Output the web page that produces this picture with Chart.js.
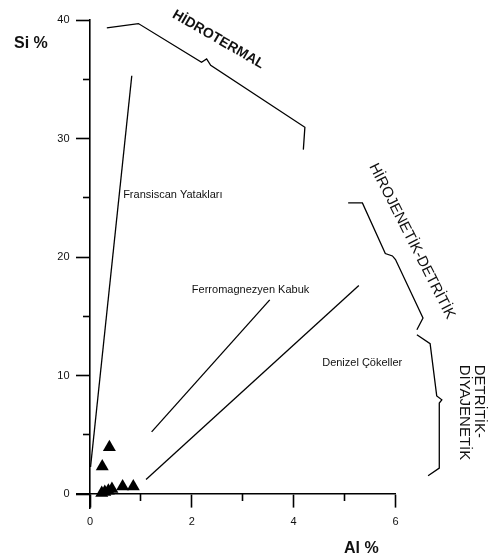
<!DOCTYPE html>
<html><head><meta charset="utf-8">
<script src="https://cdn.jsdelivr.net/npm/chart.js@4.4.1/dist/chart.umd.min.js"></script>
<style>html,body{margin:0;padding:0;background:#fff}#wrap{width:488px;height:560px;position:relative}</style>
</head><body><div id="wrap"><canvas id="c" width="488" height="560"></canvas></div>
<script>
// ---- data ----
const sampleAl = [0.38, 0.24, 0.23, 0.29, 0.36, 0.43, 0.64, 0.85];
const sampleSi = [3.97, 2.34, 0.10, 0.20, 0.30, 0.45, 0.65, 0.65];

const fransiscanAl = [0.01, 0.82];
const fransiscanSi = [2.3, 35.3];
const ferroAl = [1.21, 3.53];
const ferroSi = [5.26, 16.4];
const denizelAl = [1.10, 5.28];
const denizelSi = [1.24, 17.6];

const hidrotermalAl = [0.33, 0.95, 2.19, 2.29, 2.37, 4.22, 4.19];
const hidrotermalSi = [39.34, 39.7, 36.44, 36.72, 36.18, 30.95, 29.07];
const hirojenetikAl = [5.07, 5.35, 5.80, 5.94, 6.00, 6.54, 6.42];
const hirojenetikSi = [24.57, 24.57, 20.3, 20.1, 19.8, 14.87, 13.88];
const detritikAl = [6.42, 6.68, 6.81, 6.91, 6.86, 6.86, 6.64];
const detritikSi = [13.46, 12.70, 8.29, 7.97, 7.69, 2.21, 1.56];

const xMajorTicks = [0, 2, 4, 6];
const xMinorTicks = [1, 3, 5];
const yMajorTicks = [0, 10, 20, 30, 40];
const yMinorTicks = [5, 15, 25, 35];

const axisTitles = ['Si %', 'Al %'];
const fieldNames = ['Fransiscan Yatakları', 'Ferromagnezyen Kabuk', 'Denizel Çökeller'];
const regionNames = ['HİDROTERMAL', 'HİROJENETİK-DETRİTİK', 'DETRİTİK-', 'DİYAJENETİK'];

// ---- chart ----
const FAM = '"Liberation Sans", Arial, Helvetica, sans-serif';
const pts = (xs, ys) => xs.map((x, i) => ({x: x, y: ys[i]}));
const lineDs = (xs, ys) => ({
  data: pts(xs, ys), showLine: true, borderColor: '#000', borderWidth: 1.3,
  pointRadius: 0, pointHoverRadius: 0, fill: false, clip: false, tension: 0
});
const zeroPad = s => { s.paddingLeft = 0; s.paddingRight = 0; s.paddingTop = 0; s.paddingBottom = 0; };
const setTicks = arr => s => { s.ticks = arr.map(v => ({value: v})); };

const textPlugin = {
  id: 'texts',
  afterDraw(chart) {
    const ctx = chart.ctx;
    const xs = chart.scales.x, ys = chart.scales.y;
    const px = v => xs.getPixelForValue(v), py = v => ys.getPixelForValue(v);
    ctx.save();
    ctx.fillStyle = '#111';
    // axis titles
    ctx.font = 'bold 16px ' + FAM;
    ctx.textAlign = 'left'; ctx.textBaseline = 'alphabetic';
    ctx.fillText(axisTitles[0], px(0) - 76, py(40) + 28);
    ctx.fillText(axisTitles[1], px(0) + 254, py(0) + 59);
    // field labels
    ctx.font = '11px ' + FAM;
    ctx.textBaseline = 'middle';
    ctx.fillText(fieldNames[0], px(0.65), py(25.21));
    ctx.fillText(fieldNames[1], px(2.0), py(17.26));
    ctx.fillText(fieldNames[2], px(4.56), py(11.07));
    // region labels
    ctx.textAlign = 'center';
    ctx.font = 'bold 14px ' + FAM;
    ctx.save(); ctx.translate(px(2.52), py(38.35)); ctx.rotate(30 * Math.PI / 180);
    ctx.fillText(regionNames[0], 0, 0); ctx.restore();
    ctx.font = '15px ' + FAM;
    ctx.save(); ctx.translate(px(6.32), py(21.35)); ctx.rotate(63 * Math.PI / 180);
    ctx.fillText(regionNames[1], 0, 0); ctx.restore();
    ctx.textAlign = 'left'; ctx.textBaseline = 'alphabetic';
    ctx.save(); ctx.translate(px(7.56), py(10.93)); ctx.rotate(Math.PI / 2);
    ctx.fillText(regionNames[2], 0, 0);
    ctx.fillText(regionNames[3], 0, 15);
    ctx.restore();
    ctx.restore();
  }
};

const tickFont = {family: FAM, size: 11};
new Chart(document.getElementById('c'), {
  type: 'scatter',
  data: {
    datasets: [
      lineDs(fransiscanAl, fransiscanSi),
      lineDs(ferroAl, ferroSi),
      lineDs(denizelAl, denizelSi),
      lineDs(hidrotermalAl, hidrotermalSi),
      lineDs(hirojenetikAl, hirojenetikSi),
      lineDs(detritikAl, detritikSi),
      {
        data: pts(sampleAl, sampleSi), showLine: false, pointStyle: 'triangle',
        pointRadius: 7.5, pointHoverRadius: 7.5, backgroundColor: '#000',
        borderColor: '#000', borderWidth: 0, clip: false
      }
    ]
  },
  options: {
    responsive: false, animation: false, events: [],
    layout: {padding: {left: 0, top: 20, right: 92.5, bottom: 51.5}},
    plugins: {legend: {display: false}, tooltip: {enabled: false}},
    scales: {
      x: {
        type: 'linear', min: -0.256, max: 6, position: {y: 0},
        afterBuildTicks: setTicks(xMajorTicks), afterFit: zeroPad,
        grid: {drawOnChartArea: false, drawTicks: true, tickLength: 13, tickWidth: 1.6, tickColor: '#000'},
        border: {display: true, color: '#000', width: 1.6},
        ticks: {font: tickFont, color: '#111', padding: 8, autoSkip: false, maxRotation: 0, callback: v => String(v)}
      },
      x2: {
        type: 'linear', axis: 'x', min: -0.256, max: 6, position: {y: 0},
        afterBuildTicks: setTicks(xMinorTicks), afterFit: zeroPad,
        grid: {drawOnChartArea: false, drawTicks: true, tickLength: 7, tickWidth: 1.6, tickColor: '#000'},
        border: {display: false},
        ticks: {display: false}
      },
      y: {
        type: 'linear', min: -1.2, max: 40, position: {x: 0},
        afterBuildTicks: setTicks(yMajorTicks), afterFit: zeroPad,
        grid: {drawOnChartArea: false, drawTicks: true, tickLength: 13, tickWidth: 1.6, tickColor: '#000'},
        border: {display: true, color: '#000', width: 1.6},
        ticks: {display: false}
      },
      y2: {
        type: 'linear', axis: 'y', min: -1.2, max: 40, position: {x: 0},
        afterBuildTicks: setTicks(yMinorTicks), afterFit: zeroPad,
        grid: {drawOnChartArea: false, drawTicks: true, tickLength: 7, tickWidth: 1.6, tickColor: '#000'},
        border: {display: false},
        ticks: {display: false}
      },
      yLabels: {
        type: 'linear', axis: 'y', min: -1.2, max: 40, position: 'left',
        afterBuildTicks: setTicks(yMajorTicks),
        afterFit: s => { zeroPad(s); s.width = 77; },
        grid: {display: false, drawTicks: false},
        border: {display: false},
        ticks: {font: tickFont, color: '#111', padding: 7.5, autoSkip: false, callback: v => String(v)}
      }
    }
  },
  plugins: [textPlugin]
});
</script>
</body></html>
